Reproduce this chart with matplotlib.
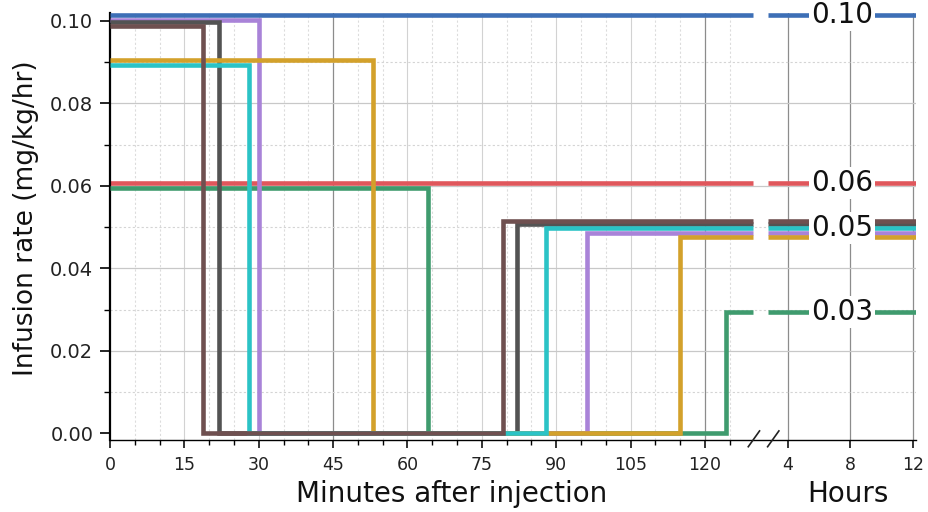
import numpy as np
import matplotlib.pyplot as plt

plt.rcParams['font.family'] = 'DejaVu Sans'

# start time (min) of each infusion step and its rate (mg/kg/hr)
# levels are nudged apart slightly, as in the original, so overlapping lines stay visible
red_t = [0]
red_v = [0.0606]
green_t = [0, 64.2, 124.2]
green_v = [0.0595, 0.0, 0.0295]
purple_t = [0, 30.0, 96.2]
purple_v = [0.1003, 0.0, 0.0486]
gray_t = [0, 22.0, 82.0]
gray_v = [0.0997, 0.0, 0.0507]
gold_t = [0, 53.0, 115.0]
gold_v = [0.0905, 0.0, 0.0476]
cyan_t = [0, 28.0, 88.0]
cyan_v = [0.0893, 0.0, 0.0498]
brown_t = [0, 18.8, 79.2]
brown_v = [0.0987, 0.0, 0.0515]
blue_t = [0]
blue_v = [0.1014]

end_labels = ['0.10', '0.06', '0.05', '0.03']
end_label_y = [0.1014, 0.0606, 0.0497, 0.0295]

minute_ticks = [0, 15, 30, 45, 60, 75, 90, 105, 120]
hour_ticks = [4, 8, 12]
y_ticks = [0.00, 0.02, 0.04, 0.06, 0.08, 0.10]

# broken time axis: linear in minutes up to BREAK, compressed hours after it
BREAK = 131.0
K = 0.05252
END = 732.0           # ~12.2 h, in minutes
GAP_L, GAP_R = 129.7, 163.6


def fwd(m):
    m = np.asarray(m, dtype=float)
    return np.where(m <= BREAK, m, BREAK + (m - BREAK) * K)


def inv(u):
    u = np.asarray(u, dtype=float)
    return np.where(u <= BREAK, u, BREAK + (u - BREAK) / K)


fig = plt.figure(figsize=(9.29, 5.12), dpi=100)
ax = fig.add_axes([0.1184, 0.140, 0.8675, 0.834])
ax.set_xscale('function', functions=(fwd, inv))
ax.set_xlim(0, END)
ax.set_ylim(-0.0017, 0.1018)

# grid
for m in range(5, 130, 5):
    if m in (45, 120):
        ax.axvline(m, color='#8c8c8c', lw=0.9, zorder=0)
    elif m % 15 == 0:
        ax.axvline(m, color='#d2d2d2', lw=0.8, zorder=0)
    else:
        ax.axvline(m, color='#dcdcdc', lw=0.8, ls=(0, (2, 2)), zorder=0)
for h in hour_ticks:
    ax.axvline(h * 60, color='#8c8c8c', lw=0.9, zorder=0)
for k in range(1, 10):
    if k % 2 == 0:
        ax.axhline(k / 100, color='#c8c8c8', lw=0.9, zorder=0)
    else:
        ax.axhline(k / 100, color='#d4d4d4', lw=0.8, ls=(0, (2, 2)), zorder=0)

series = [
    (red_t, red_v, '#e0575c'),
    (green_t, green_v, '#3f9b6e'),
    (purple_t, purple_v, '#a983d8'),
    (gray_t, gray_v, '#535353'),
    (gold_t, gold_v, '#d3a12b'),
    (cyan_t, cyan_v, '#2bc3c6'),
    (brown_t, brown_v, '#6f5050'),
    (blue_t, blue_v, '#3d6fb6'),
]

for i, (t, v, c) in enumerate(series):
    tt = list(t) + [GAP_L]
    vv = list(v) + [v[-1]]
    ax.step(tt, vv, where='post', color=c, lw=3.3, zorder=2 + i,
            solid_capstyle='butt', solid_joinstyle='miter')
    ax.plot([GAP_R, END], [v[-1], v[-1]], color=c, lw=3.3, zorder=2 + i,
            solid_capstyle='butt')

for txt, yv in zip(end_labels, end_label_y):
    ax.text(447.8, yv, txt, fontsize=20, ha='center', va='center', color='#111111',
            zorder=20, bbox=dict(facecolor='white', edgecolor='none', pad=1.5))

# ticks
ax.set_xticks([float(m) for m in minute_ticks] + [h * 60.0 for h in hour_ticks])
ax.set_xticklabels([str(m) for m in minute_ticks] + [str(h) for h in hour_ticks])
ax.set_xticks([m for m in range(5, 130, 5) if m % 15 != 0], minor=True)
ax.set_yticks(y_ticks)
ax.set_yticklabels(['%.2f' % y for y in y_ticks])
ax.set_yticks([0.01, 0.03, 0.05, 0.07, 0.09], minor=True)
ax.tick_params(axis='x', which='major', direction='out', length=6, width=1.2,
               labelsize=12.5, pad=5, colors='#111111', labelcolor='#222222')
ax.tick_params(axis='x', which='minor', direction='out', length=3.5, width=1.0)
ax.tick_params(axis='y', which='major', direction='out', length=7, width=1.2,
               labelsize=14, pad=5, labelcolor='#222222')
ax.tick_params(axis='y', which='minor', direction='out', length=4, width=1.0)

for s in ['top', 'right']:
    ax.spines[s].set_visible(False)
ax.spines['left'].set_linewidth(1.6)
ax.spines['bottom'].set_linewidth(1.0)
ax.set_facecolor('white')

# break marks on the time axis
for x0 in (0.792, 0.816):
    ax.plot([x0, x0 + 0.014], [-0.015, 0.022], color='#222222', lw=1.2,
            transform=ax.transAxes, clip_on=False, zorder=30)

fig.text(0.4865, 0.0195, 'Minutes after injection', fontsize=20, ha='center',
         va='baseline', color='#111111')
fig.text(0.913, 0.0195, 'Hours', fontsize=20, ha='center', va='baseline',
         color='#111111')
fig.text(0.028, 0.574, 'Infusion rate (mg/kg/hr)', fontsize=19, rotation=90,
         ha='center', va='center', color='#111111')

fig.savefig('out.png', dpi=100)
